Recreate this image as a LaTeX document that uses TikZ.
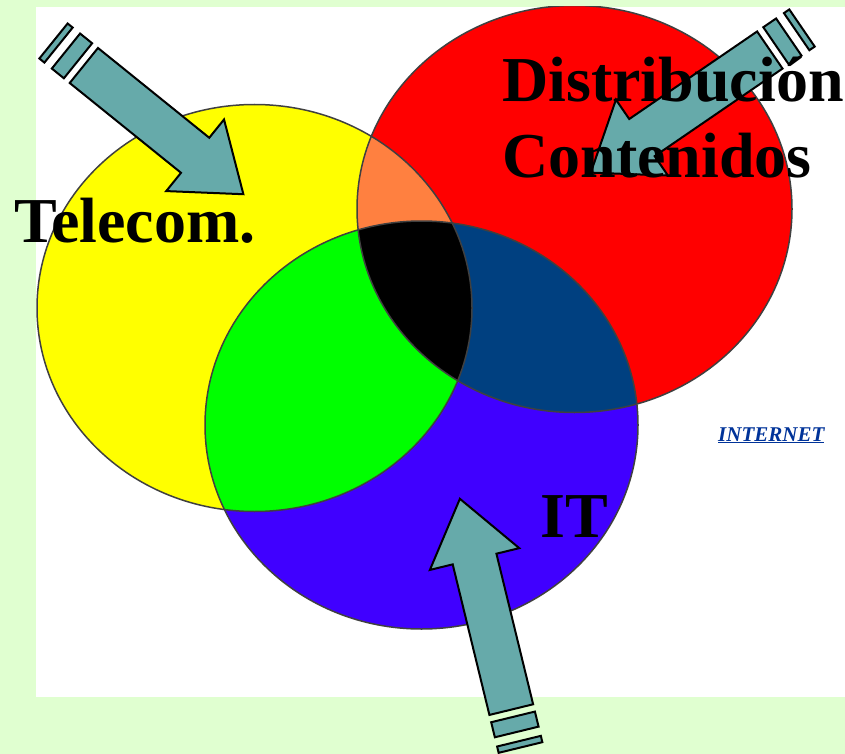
\documentclass[tikz,border=0pt]{standalone}
\usepackage{fontspec}
\setmainfont{Liberation Serif}
\usetikzlibrary{positioning}
\definecolor{mygreen1}{RGB}{224, 255, 208}
\definecolor{myyellow}{RGB}{255, 255, 0}
\definecolor{myred}{RGB}{255, 0, 0}
\definecolor{myblue}{RGB}{64, 0, 255}
\definecolor{myorange}{RGB}{255, 128, 64}
\definecolor{mylime}{RGB}{0, 255, 0}
\definecolor{mynavy}{RGB}{0, 64, 128}
\definecolor{myteal}{RGB}{102, 170, 170}
\definecolor{myedge}{RGB}{64, 64, 64}
\definecolor{mylink}{RGB}{0, 51, 153}

% circles of the diagram
\newcommand{\ellTel}{(254.5, 308) ellipse [x radius = 217.5pt, y radius = 203.5pt]}
\newcommand{\ellDist}{(574.5, 209) ellipse [x radius = 217.5pt, y radius = 203.5pt]}
\newcommand{\ellIT}{(421.5, 425) ellipse [x radius = 216.5pt, y radius = 204pt]}

% striped arrow along +x, rear at the origin, #1 = length
\newcommand{\stripedarrow}[1]{%
\draw[a0] (0, -22.5) rectangle (6.5, 22.5);
\draw[a0] (16, -22.5) rectangle (31.5, 22.5);
\draw[a0] (39, -22.5) -- ({#1-62}, -22.5) -- ({#1-62}, -46) -- (#1, 0)
  -- ({#1-62}, 46) -- ({#1-62}, 22.5) -- (39, 22.5) -- cycle;
}

\begin{document}
\begin{tikzpicture}[
    x = 1pt, y = -1pt,
    a0/.style = {line width = 2, fill = myteal, draw = black, line join = miter},
    c0/.style = {line width = 1.5, draw = myedge},
    big/.style = {font = \fontsize{64}{76}\selectfont\bfseries, inner sep = 0, anchor = base west}
]

\useasboundingbox (0, 0) rectangle (845, 754);
\fill[mygreen1] (0, 0) rectangle (845, 754);
\fill[white] (36, 7) rectangle (845, 697);

\begin{scope}
\clip (36, 7) rectangle (845, 697);
\fill[myyellow] \ellTel;
\fill[myred] \ellDist;
\fill[myblue] \ellIT;
\begin{scope}
\clip \ellTel;
\fill[myorange] \ellDist;
\fill[mylime] \ellIT;
\clip \ellDist;
\fill[black] \ellIT;
\end{scope}
\begin{scope}
\clip \ellDist;
\fill[mynavy] \ellIT;
\clip \ellTel;
\fill[black] \ellIT;
\end{scope}
\draw[c0] \ellTel;
\draw[c0] \ellDist;
\draw[c0] \ellIT;
\end{scope}

\begin{scope}[shift = {(53.5, 41)}, rotate = -38.9]
\stripedarrow{244}
\end{scope}
\begin{scope}[shift = {(802, 28)}, rotate = 214.4]
\stripedarrow{256}
\end{scope}
\begin{scope}[shift = {(520.5, 747.5)}, rotate = 103.7]
\stripedarrow{256}
\end{scope}

\node[big] (telecom) at (14, 242) {Telecom.};
\node[big] (dist) at (502, 102) {Distribución};
\node[big] (cont) at (502, 178) {Contenidos};
\node[big] (it) at (540, 537) {IT};
\node[anchor = base west, inner sep = 0, text = mylink, font = \fontsize{21}{25}\selectfont\bfseries\itshape]
  (inet) at (718, 441) {\underline{INTERNET}};

\end{tikzpicture}
\end{document}
